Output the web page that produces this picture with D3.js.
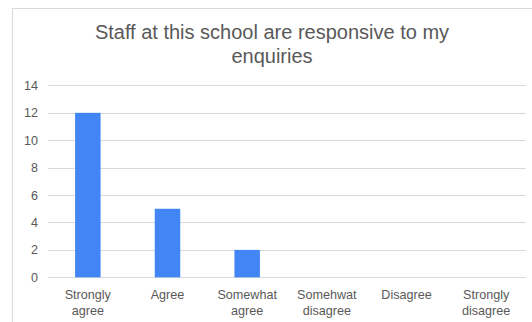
<!DOCTYPE html>
<html><head><meta charset="utf-8">
<script src="https://cdn.jsdelivr.net/npm/d3@7"></script>
<style>
html,body{margin:0;padding:0;background:#fff;}
svg{display:block;font-family:"Liberation Sans",Arial,sans-serif;}
</style></head>
<body>
<svg id="c" width="532" height="322"></svg>
<script>
const categories = [["Strongly","agree"],["Agree"],["Somewhat","agree"],["Somehwat","disagree"],["Disagree"],["Strongly","disagree"]];
const values = [12, 5, 2, 0, 0, 0];
const yTicks = [0, 2, 4, 6, 8, 10, 12, 14];
const titleLines = ["Staff at this school are responsive to my", "enquiries"];

(function () {
const svg = d3.select("#c");
// chart frame
svg.append("rect").attr("x", 12.5).attr("y", 8.5).attr("width", 540).attr("height", 330)
  .attr("fill", "#fff").attr("stroke", "#d9d9d9").attr("stroke-width", 1);

const pLeft = 48, pRight = 526, pTop = 85.4, pBottom = 277.3;
const x = d3.scaleBand().domain(d3.range(categories.length)).range([pLeft, pRight]).paddingInner(0.68).paddingOuter(0.34);
const y = d3.scaleLinear().domain([0, 14]).range([pBottom, pTop]);

// gridlines
svg.append("g").selectAll("line").data(yTicks).join("line")
  .attr("x1", pLeft).attr("x2", pRight)
  .attr("y1", d => Math.round(y(d)) + 0.5).attr("y2", d => Math.round(y(d)) + 0.5)
  .attr("stroke", "#d9d9d9").attr("stroke-width", 1);

// y axis labels
const yAxis = d3.axisLeft(y).tickValues(yTicks).tickSize(0).tickPadding(0);
const ya = svg.append("g").attr("transform", `translate(38,0)`).call(yAxis);
ya.select(".domain").remove();
ya.selectAll("text").attr("fill", "#595959").style("font-size", "12.5px").style("font-family", "Liberation Sans, Arial, sans-serif");

// bars
svg.append("g").selectAll("rect").data(values).join("rect")
  .attr("x", (d, i) => x(i)).attr("width", x.bandwidth())
  .attr("y", d => y(d)).attr("height", d => y(0) - y(d))
  .attr("fill", "#4285f4");

// x labels
const xl = svg.append("g");
categories.forEach((lines, i) => {
  const cx = x(i) + x.bandwidth() / 2;
  const t = xl.append("text").attr("text-anchor", "middle").attr("fill", "#595959").style("font-size", "12.6px");
  lines.forEach((l, j) => t.append("tspan").attr("x", cx).attr("y", 298.5 + j * 16).text(l));
});

// title
const tt = svg.append("text").attr("text-anchor", "middle").attr("fill", "#595959").style("font-size", "20px");
titleLines.forEach((l, j) => tt.append("tspan").attr("x", 272).attr("y", 38.5 + j * 24).text(l));
})();
</script>
</body></html>
